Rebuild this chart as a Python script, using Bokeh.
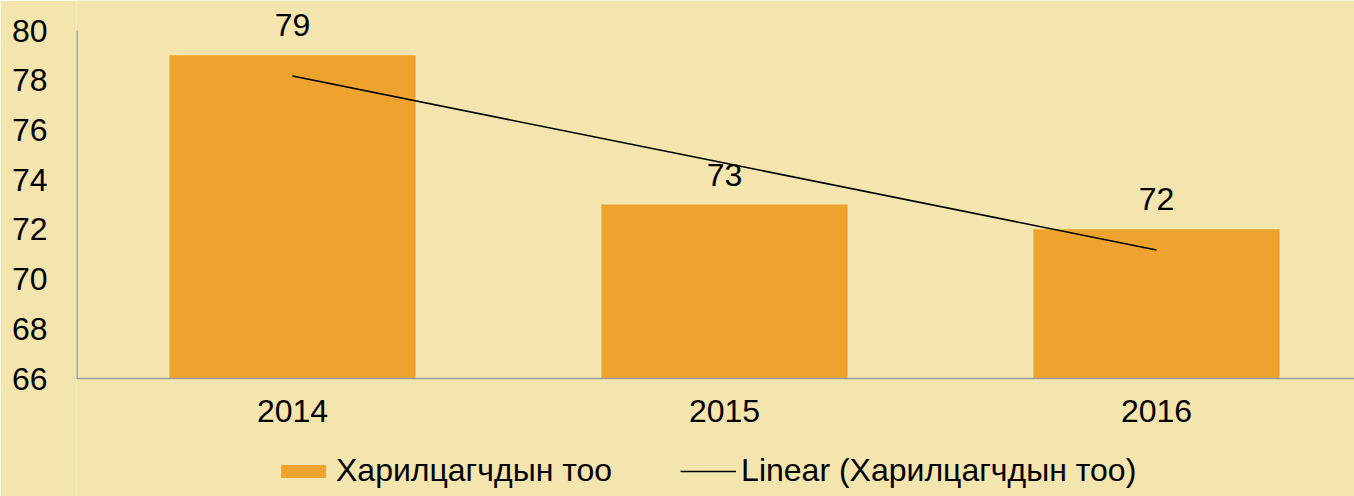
import numpy as np
from bokeh.plotting import figure
from bokeh.models import Range1d, FixedTicker, Legend, LegendItem, ColumnDataSource, Span
from bokeh.core.properties import value
from bokeh.embed import file_html
from bokeh.resources import INLINE

years = ["2014", "2015", "2016"]
counts = [79, 73, 72]
series_name = "Харилцагчдын тоо"
trend_name = "Linear (Харилцагчдын тоо)"
y_ticks = [66, 68, 70, 72, 74, 76, 78, 80]

FONT = "Liberation Sans"
FS = "32px"
BG = "#F4E4AE"
BAR = "#EEA32F"
AXIS = "#9A9A9A"

# layout (pixels)
W, H = 1354, 496
LEFT = 76
AX_TOP, AX_BOTTOM = 30, 378
CAT_PX = 432

ymin, ymax = min(y_ticks), max(y_ticks)
ppu = (AX_BOTTOM - AX_TOP) / (ymax - ymin)
y_start = ymin - (H - AX_BOTTOM) / ppu
y_end = ymax + AX_TOP / ppu

xpos = [i + 0.5 for i in range(len(years))]
src = ColumnDataSource(dict(x=xpos, top=counts, lab=[str(c) for c in counts]))

coef = np.polyfit(np.arange(len(counts)), counts, 1)
trend = list(np.polyval(coef, np.arange(len(counts))))

p = figure(frame_width=W - LEFT, frame_height=H, output_backend="svg", toolbar_location=None,
           x_range=Range1d(0, (W - LEFT) / CAT_PX), y_range=Range1d(y_start, y_end),
           min_border_left=LEFT, min_border_right=0, min_border_top=0, min_border_bottom=0)
p.background_fill_color = BG
p.border_fill_color = BG
p.outline_line_color = None
p.xgrid.visible = False
p.ygrid.visible = False
p.xaxis.visible = False

bars = p.vbar(x="x", top="top", bottom=ymin, width=0.57, source=src, fill_color=BAR, line_color=None)
ln = p.line(xpos, trend, line_color="black", line_width=1.6)

# axis lines
p.add_layout(Span(location=ymin, dimension="width", line_color=AXIS, line_width=1.5))
p.segment(x0=[0], y0=[ymin], x1=[0], y1=[ymax], line_color=AXIS, line_width=2.5)

# value labels
p.text(x="x", y="top", text="lab", source=src, text_align="center", text_baseline="bottom",
       y_offset=-19, text_font=value(FONT), text_font_size=FS, text_color="black")
# category labels
p.text(x=xpos, y=[ymin] * len(years), text=years, text_align="center", text_baseline="top",
       y_offset=21, text_font=value(FONT), text_font_size=FS, text_color="black")

p.yaxis.ticker = FixedTicker(ticks=y_ticks)
p.yaxis.axis_line_color = None
p.yaxis.major_tick_line_color = None
p.yaxis.minor_tick_line_color = None
p.yaxis.major_label_text_font = FONT
p.yaxis.major_label_text_font_size = FS
p.yaxis.major_label_text_color = "black"
p.yaxis.major_label_standoff = 23

legend = Legend(items=[LegendItem(label=series_name, renderers=[bars]),
                       LegendItem(label=trend_name, renderers=[ln])],
                orientation="horizontal", location=(199, 7),
                label_text_font=FONT, label_text_font_size=FS, label_text_color="black",
                glyph_width=56, glyph_height=16, spacing=68, label_standoff=5,
                background_fill_alpha=0, border_line_color=None,
                margin=0, padding=0)
p.add_layout(legend, "center")

open("out.html", "w").write(file_html(p, INLINE))
